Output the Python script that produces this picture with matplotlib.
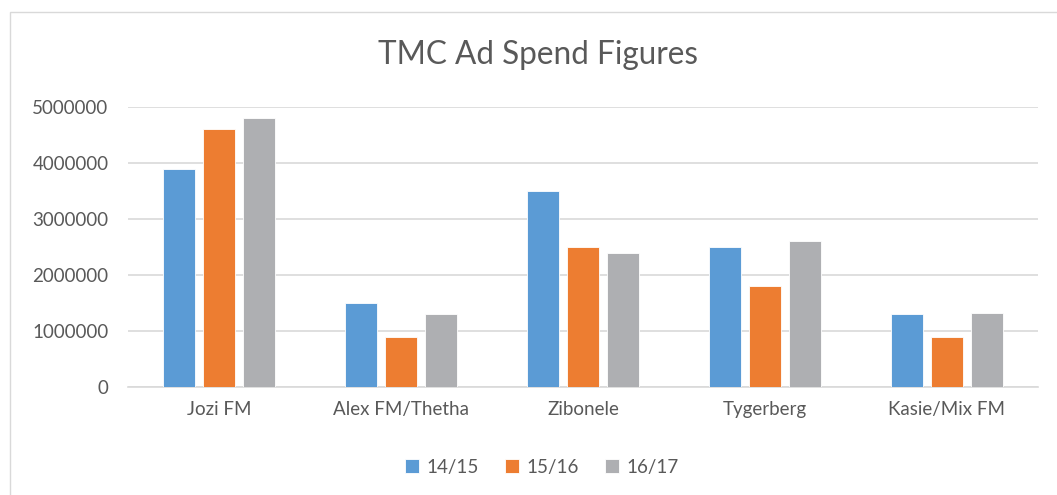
import matplotlib

matplotlib.use("Agg")
import matplotlib.pyplot as plt
import numpy as np
from matplotlib.patches import Rectangle

categorias = ["Jozi FM", "Alex FM/Thetha", "Zibonele", "Tygerberg", "Kasie/Mix FM"]
series = ["14/15", "15/16", "16/17"]
valores_1415 = [3900000, 1500000, 3500000, 2500000, 1300000]
valores_1516 = [4600000, 900000, 2500000, 1800000, 900000]
valores_1617 = [4800000, 1300000, 2400000, 2600000, 1330000]
colores = ["#5B9BD5", "#ED7D31", "#AEAFB2"]

plt.rcParams["font.family"] = ["Lato", "DejaVu Sans"]
texto = "#595959"

fig = plt.figure(figsize=(10.57, 4.95), dpi=100)
ax = fig.add_axes([128 / 1057, 1 - 387 / 495, (1038 - 128) / 1057, (387 - 107) / 495])

x = np.arange(len(categorias))
ancho = 0.176
paso = 0.22
for i, (vals, nombre) in enumerate(zip([valores_1415, valores_1516, valores_1617], series)):
    ax.bar(x + (i - 1) * paso, vals, ancho, color=colores[i], label=nombre,
           edgecolor="white", linewidth=0.6, zorder=3)

ax.set_xlim(-0.5, len(categorias) - 0.5)
ax.set_ylim(0, 5000000)
ax.set_yticks(np.arange(0, 5000001, 1000000))
ax.set_yticklabels([f"{int(v)}" for v in np.arange(0, 5000001, 1000000)])
ax.set_xticks(x)
ax.set_xticklabels(categorias)
ax.tick_params(axis="both", length=0, labelsize=13.5, colors=texto)
ax.tick_params(axis="y", pad=14)
ax.tick_params(axis="x", pad=10)
ax.grid(axis="y", color="#D9D9D9", linewidth=1.2, zorder=0)
for lado in ["top", "right", "left"]:
    ax.spines[lado].set_visible(False)
ax.spines["bottom"].set_color("#D9D9D9")
ax.spines["bottom"].set_linewidth(1.2)

fig.text(538 / 1057, 1 - 55 / 495, "TMC Ad Spend Figures", ha="center", va="center",
         fontsize=22.7, color=texto)

fig.legend(loc="center", bbox_to_anchor=(542 / 1057, 1 - 467 / 495), ncol=3,
           frameon=False, fontsize=13.5, labelcolor=texto, handlelength=0.75,
           handleheight=0.75, handletextpad=0.4, columnspacing=1.4)

# marco del gráfico
fig.patches.append(Rectangle((10 / 1057, -0.1), 1.2, 1 - 12 / 495 + 0.1,
                             transform=fig.transFigure, fill=False,
                             edgecolor="#D9D9D9", linewidth=1.0))

plt.savefig("out.png", dpi=100)
plt.close()
